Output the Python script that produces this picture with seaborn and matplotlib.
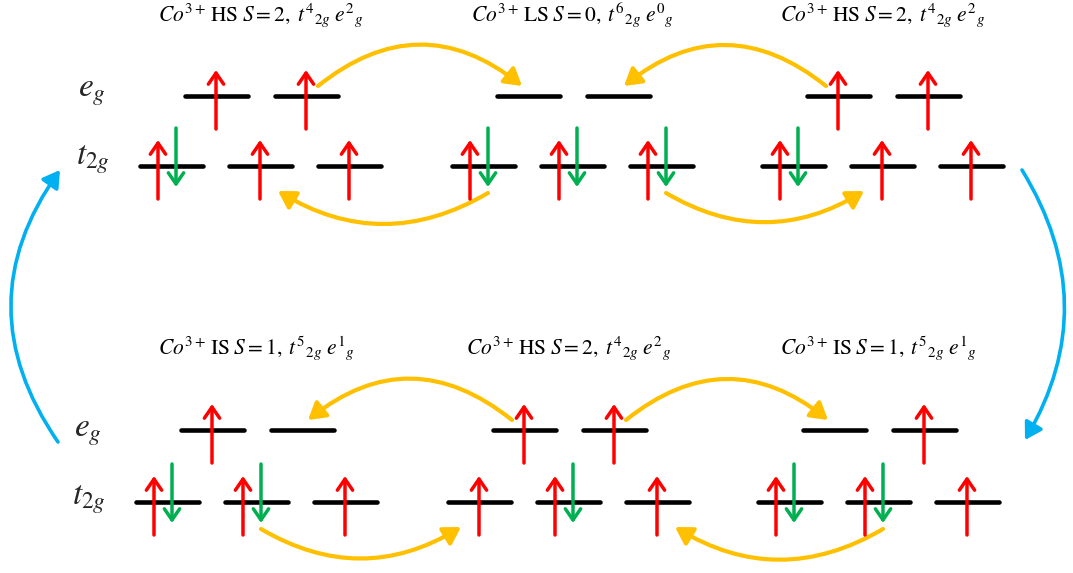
import numpy as np
import pandas as pd
import matplotlib
matplotlib.use('Agg')
import matplotlib.pyplot as plt
import seaborn as sns
from matplotlib.patches import FancyArrowPatch

# ── 1. DATA: Co3+ spin states and orbital occupancy ───────────
spin_state = ['HS', 'LS', 'HS', 'IS', 'HS', 'IS']
spin_S = ['2', '0', '2', '1', '2', '1']
n_t2g = ['4', '6', '4', '5', '4', '5']
n_eg = ['2', '0', '2', '1', '2', '1']

# 'u' = spin up, 'ud' = paired, '' = empty
t2g_occ = [['ud', 'u', 'u'], ['ud', 'ud', 'ud'], ['ud', 'u', 'u'],
           ['ud', 'ud', 'u'], ['u', 'ud', 'u'], ['ud', 'ud', 'u']]
eg_occ = [['u', 'u'], ['', ''], ['u', 'u'],
          ['u', ''], ['u', 'u'], ['', 'u']]

# electron hops (yellow): (group, level, orbital) -> (group, level, orbital)
hops = [((0, 'eg', 1), (1, 'eg', 0)),
        ((2, 'eg', 0), (1, 'eg', 1)),
        ((1, 't2g', 0), (0, 't2g', 1)),
        ((1, 't2g', 2), (2, 't2g', 1)),
        ((4, 'eg', 0), (3, 'eg', 1)),
        ((4, 'eg', 1), (5, 'eg', 0)),
        ((3, 't2g', 1), (4, 't2g', 0)),
        ((5, 't2g', 1), (4, 't2g', 2))]

# ── 2. LAYOUT (pixels) ────────────────────────────────────────
W, H = 1073, 573
group_row = [0, 0, 0, 1, 1, 1]
GROUP_X0 = [140, 452, 762, 136, 448, 758]
EG_Y = [96, 430]
T2G_Y = [166, 502]
LEVEL_W = 63
T2G_STEP = 89
EG_OFF = [45, 135]

RED, GREEN = '#FF0000', '#00B050'
YELLOW, BLUE = '#FFC000', '#00B0F0'

sns.set_theme(style='white')
plt.rcParams['mathtext.fontset'] = 'stix'
plt.rcParams['font.family'] = ['DejaVu Serif']


def orbital_x0(g, level, k):
    if level == 't2g':
        return GROUP_X0[g] + k * T2G_STEP
    return GROUP_X0[g] + EG_OFF[k]


def level_y(g, level):
    r = group_row[g]
    return T2G_Y[r] if level == 't2g' else EG_Y[r]


# level segments as a long table for seaborn
rows = []
seg = 0
for g in range(6):
    for level, occ in (('t2g', t2g_occ[g]), ('eg', eg_occ[g])):
        for k in range(len(occ)):
            x0 = orbital_x0(g, level, k)
            y = level_y(g, level)
            rows.append({'seg': seg, 'x': x0, 'y': y})
            rows.append({'seg': seg, 'x': x0 + LEVEL_W, 'y': y})
            seg += 1
levels = pd.DataFrame(rows)

fig = plt.figure(figsize=(W / 100, H / 100), dpi=100)
ax = fig.add_axes([0, 0, 1, 1])
sns.lineplot(data=levels, x='x', y='y', units='seg', estimator=None, sort=False,
             color='black', lw=3.3, ax=ax, legend=False, zorder=1)


def spin(x, y0, y1, color):
    ax.annotate('', xy=(x, y1), xytext=(x, y0),
                arrowprops=dict(arrowstyle='->,head_length=0.8,head_width=0.55',
                                color=color, lw=2.5, mutation_scale=10,
                                shrinkA=0, shrinkB=0), zorder=3)


# electrons
for g in range(6):
    for level, occ in (('t2g', t2g_occ[g]), ('eg', eg_occ[g])):
        y = level_y(g, level)
        for k, o in enumerate(occ):
            x0 = orbital_x0(g, level, k)
            if o == 'u':
                spin(x0 + 31, y + 33, y - 26, RED)
            elif o == 'ud':
                spin(x0 + 18, y + 33, y - 26, RED)
                spin(x0 + 36, y - 38, y + 21, GREEN)

# hopping arcs
for (g0, l0, k0), (g1, l1, k1) in hops:
    x_src = orbital_x0(g0, l0, k0)
    x_dst = orbital_x0(g1, l1, k1)
    s = np.sign(x_dst - x_src)
    y = level_y(g0, l0)
    if l0 == 'eg':
        p0 = (x_src + 31 + 12 * s, y - 10)
        p1 = (x_dst + 31 - 6 * s, y - 10)
        rad = -0.4 * s
    else:
        p0 = (x_src + 36, y + 27)
        p1 = (x_dst + 31 - 18 * s, y + 25)
        rad = 0.3 * s
    ax.add_patch(FancyArrowPatch(p0, p1, connectionstyle=f'arc3,rad={rad}',
                                 arrowstyle='-|>,head_length=1.0,head_width=0.6',
                                 mutation_scale=10, color=YELLOW, lw=3,
                                 shrinkA=0, shrinkB=0, zorder=2))

# cycle arrows (blue)
ax.add_patch(FancyArrowPatch((58, 442), (60, 170), connectionstyle='arc3,rad=-0.35',
                             arrowstyle='-|>,head_length=1.0,head_width=0.6',
                             mutation_scale=10, color=BLUE, lw=2.6,
                             shrinkA=0, shrinkB=0))
ax.add_patch(FancyArrowPatch((1022, 170), (1025, 440), connectionstyle='arc3,rad=-0.3',
                             arrowstyle='-|>,head_length=1.0,head_width=0.6',
                             mutation_scale=10, color=BLUE, lw=2.6,
                             shrinkA=0, shrinkB=0))

# titles
for g in range(6):
    cx = GROUP_X0[g] + (2 * T2G_STEP + LEVEL_W) / 2
    ty = 21 if group_row[g] == 0 else 354
    label = (rf'$Co^{{3+}}\,\mathrm{{{spin_state[g]}}}\;\mathit{{S{{=}}{spin_S[g]},}}\;'
             rf't^{{\mathit{{{n_t2g[g]}}}}}{{}}_{{2g}}\;e^{{\mathit{{{n_eg[g]}}}}}{{}}_{{g}}$')
    ax.text(cx, ty, label, ha='center', va='baseline', fontsize=15.5, color='black')

# level labels
for r in range(2):
    lx = 78 if r == 0 else 74
    ax.text(lx, EG_Y[r] + (0 if r == 0 else 6), r'$e_g$', ha='left', va='baseline', fontsize=24)
    ax.text(lx - 2, T2G_Y[r] + (-2 if r == 0 else 3), r'$t_{2g}$', ha='left', va='baseline', fontsize=24)

ax.set_xlim(0, W)
ax.set_ylim(H, 0)
ax.axis('off')
plt.savefig('out.png', dpi=100)
